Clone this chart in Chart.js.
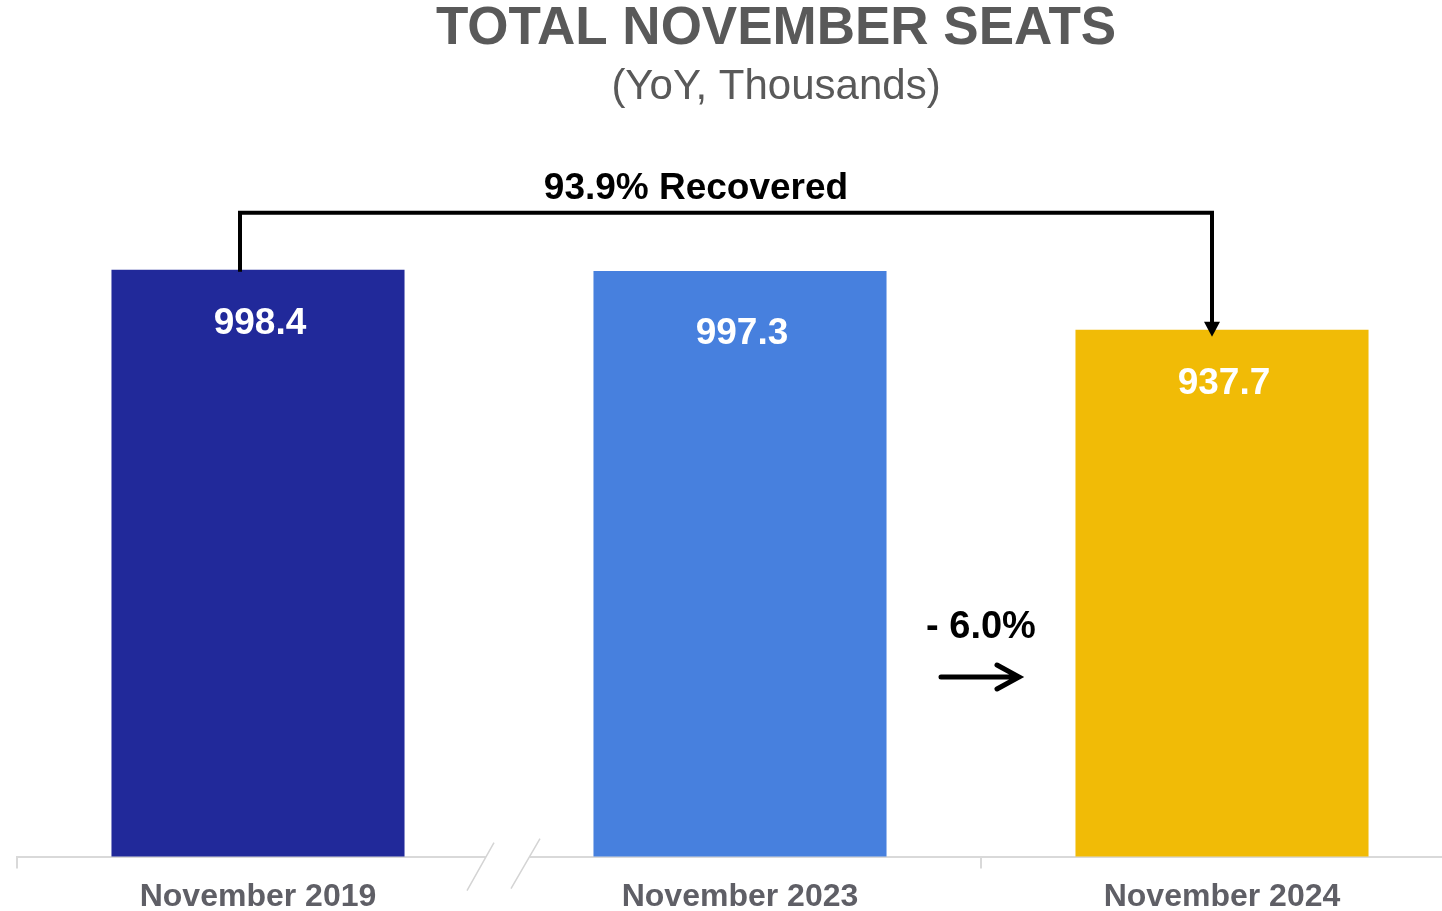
<!DOCTYPE html>
<html lang="en">
<head>
    <meta charset="UTF-8">
    <script src="https://cdn.jsdelivr.net/npm/chart.js"></script>
    <title>Total November Seats</title>
    <style>
        html, body {
            margin: 0;
            padding: 0;
            overflow: hidden;
            background: #ffffff;
        }

        .wrap {
            width: 1442px;
            height: 911px;
            overflow: hidden;
        }
    </style>
</head>
<body>
<div class="wrap">
    <canvas id="seatsChart" width="1480" height="925"></canvas>
</div>

<script>
    // datos del grafico
    const categories = ['November 2019', 'November 2023', 'November 2024'];
    const seats = [998.4, 997.3, 937.7];
    const barColors = ['#21299A', '#4780DE', '#F1BB06'];
    const recoveredText = '93.9% Recovered';
    const changeText = '- 6.0%';

    const FONT = '"Liberation Sans", Arial, sans-serif';

    // titulos, etiquetas y flechas dibujadas encima
    const extrasPlugin = {
        id: 'extras',
        afterDraw(chart) {
            const ctx = chart.ctx;
            const meta = chart.getDatasetMeta(0);
            const x = chart.scales.x;
            const area = chart.chartArea;

            ctx.save();

            // titulo
            ctx.textAlign = 'center';
            ctx.textBaseline = 'middle';
            ctx.fillStyle = '#595959';
            ctx.font = 'bold 53px ' + FONT;
            ctx.fillText('TOTAL NOVEMBER SEATS', 776, 29);
            ctx.font = '42px ' + FONT;
            ctx.fillText('(YoY, Thousands)', 776, 87);

            // valores dentro de las barras
            const labelDrop = [54, 63, 54];
            ctx.fillStyle = '#ffffff';
            ctx.font = 'bold 37px ' + FONT;
            meta.data.forEach((bar, i) => {
                ctx.fillText(seats[i].toFixed(1), bar.x + 2, bar.y + labelDrop[i]);
            });

            // corchete "Recovered"
            const first = meta.data[0];
            const last = meta.data[meta.data.length - 1];
            const lx = first.x - 18;
            const rx = last.x - 10;
            const topY = first.y - 57;
            ctx.strokeStyle = '#000000';
            ctx.lineWidth = 4;
            ctx.lineJoin = 'miter';
            ctx.beginPath();
            ctx.moveTo(lx, first.y + 2);
            ctx.lineTo(lx, topY);
            ctx.lineTo(rx, topY);
            ctx.lineTo(rx, last.y - 6);
            ctx.stroke();
            ctx.fillStyle = '#000000';
            ctx.beginPath();
            ctx.moveTo(rx - 8, last.y - 8);
            ctx.lineTo(rx + 8, last.y - 8);
            ctx.lineTo(rx, last.y + 7);
            ctx.closePath();
            ctx.fill();

            ctx.font = 'bold 37px ' + FONT;
            ctx.fillText(recoveredText, 696, topY - 24);

            // cambio interanual entre 2023 y 2024
            const midX = (meta.data[1].x + last.x) / 2;
            ctx.font = 'bold 38px ' + FONT;
            ctx.fillText(changeText, midX, 628);
            ctx.lineWidth = 5;
            ctx.lineCap = 'round';
            ctx.beginPath();
            ctx.moveTo(midX - 40, 677);
            ctx.lineTo(midX + 38, 677);
            ctx.moveTo(midX + 16, 665);
            ctx.lineTo(midX + 38, 677);
            ctx.lineTo(midX + 16, 689);
            ctx.stroke();

            // corte del eje entre 2019 y 2023
            const bx = x.getPixelForValue(0) + (x.getPixelForValue(1) - x.getPixelForValue(0)) / 2;
            ctx.fillStyle = '#ffffff';
            ctx.fillRect(bx - 13, area.bottom - 3, 44, 6);
            ctx.strokeStyle = '#d4d4d4';
            ctx.lineWidth = 1.5;
            ctx.lineCap = 'butt';
            ctx.beginPath();
            ctx.moveTo(bx - 5, area.bottom - 14);
            ctx.lineTo(bx - 32, area.bottom + 34);
            ctx.moveTo(bx + 41, area.bottom - 18);
            ctx.lineTo(bx + 12, area.bottom + 32);
            ctx.stroke();

            ctx.restore();
        }
    };

    new Chart(document.getElementById('seatsChart'), {
        type: 'bar',
        data: {
            labels: categories,
            datasets: [{
                data: seats,
                backgroundColor: barColors,
                borderWidth: 0,
                categoryPercentage: 1,
                barPercentage: 0.608
            }]
        },
        options: {
            responsive: false,
            animation: false,
            devicePixelRatio: 1,
            layout: {
                padding: { top: 200, left: 17, right: 17, bottom: 0 }
            },
            plugins: {
                legend: { display: false },
                tooltip: { enabled: false },
                title: { display: false }
            },
            scales: {
                y: {
                    display: false,
                    min: 405,
                    max: 1069
                },
                x: {
                    border: { display: true, color: '#d9d9d9', width: 2 },
                    grid: {
                        drawOnChartArea: false,
                        drawTicks: true,
                        tickLength: 12,
                        lineWidth: 2,
                        color: c => c.index === 1 ? 'rgba(0,0,0,0)' : '#d9d9d9'
                    },
                    ticks: {
                        color: '#5f5f66',
                        padding: 9,
                        font: { family: FONT, size: 32, weight: 'bold' }
                    }
                }
            }
        },
        plugins: [extrasPlugin]
    });
</script>
</body>
</html>
